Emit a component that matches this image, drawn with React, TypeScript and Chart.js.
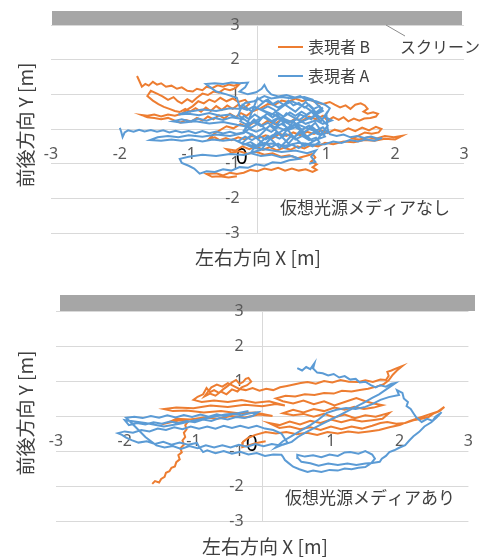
import React, { useEffect, useRef } from "react";
import { Chart, registerables } from "chart.js";

Chart.register(...registerables);

// ---------- data ----------
const axisMin = -3;
const axisMax = 3;
const tickStep = 1;

const seriesNames = ["表現者 B", "表現者 A"];
const screenLabel = "スクリーン";
const xTitle = "左右方向 X [m]";
const yTitle = "前後方向 Y [m]";
const topCaption = "仮想光源メディアなし";
const bottomCaption = "仮想光源メディアあり";

// top panel (without media) - performer B (orange)
const topB: [number, number][] = [
  [-1.75, 1.53], [-1.72, 1.4], [-1.68, 1.22], [-1.63, 1.3], [-1.58, 1.25], [-1.52, 1.36], [-1.46, 1.28], [-1.4, 1.32],
  [-1.33, 1.22], [-1.25, 1.25], [-1.17, 1.16], [-1.1, 1.2], [-1.02, 1.1], [-0.94, 1.08], [-0.88, 1.16], [-0.8, 1.12],
  [-0.74, 1.22], [-0.66, 1.18], [-0.58, 1.26], [-0.5, 1.22], [-0.42, 1.28], [-0.34, 1.25], [-0.26, 1.3],
  [-0.32, 1.18], [-0.4, 1.12], [-0.48, 1.16], [-0.56, 1.05], [-0.64, 1.08], [-0.72, 0.98], [-0.8, 1.02], [-0.88, 0.9],
  [-0.95, 0.78], [-1.02, 0.86], [-1.1, 0.74], [-1.16, 0.8], [-1.22, 0.92], [-1.3, 0.84], [-1.38, 0.94], [-1.46, 1.02],
  [-1.55, 1.1], [-1.6, 0.95], [-1.52, 0.82], [-1.44, 0.72], [-1.36, 0.64], [-1.28, 0.58], [-1.2, 0.52], [-1.13, 0.49],
  [-1.05, 0.58], [-0.98, 0.5], [-0.9, 0.6], [-0.82, 0.5], [-0.75, 0.62], [-0.68, 0.52], [-0.6, 0.66], [-0.52, 0.55],
  [-0.44, 0.68], [-0.36, 0.58], [-0.28, 0.7], [-0.2, 0.6], [-0.12, 0.72], [-0.18, 0.84], [-0.28, 0.78], [-0.36, 0.88],
  [-0.45, 0.8], [-0.54, 0.9], [-0.62, 0.78], [-0.7, 0.85], [-0.78, 0.74], [-0.86, 0.8], [-0.94, 0.66], [-1.02, 0.56],
  [-1.1, 0.44], [-1.2, 0.38], [-1.3, 0.42], [-1.4, 0.36], [-1.5, 0.42], [-1.6, 0.38], [-1.68, 0.4], [-1.6, 0.34],
  [-1.5, 0.32], [-1.4, 0.28], [-1.3, 0.32], [-1.2, 0.24], [-1.12, 0.18], [-1.04, 0.26], [-0.96, 0.22], [-0.88, 0.32],
  [-0.8, 0.24], [-0.72, 0.36], [-0.64, 0.28], [-0.56, 0.4], [-0.48, 0.3], [-0.4, 0.44], [-0.32, 0.34], [-0.24, 0.46],
  [-0.16, 0.38], [-0.08, 0.5], [0.05, 0.6], [0.15, 0.72], [0.25, 0.7], [0.35, 0.82], [0.45, 0.78], [0.55, 0.88],
  [0.65, 0.8], [0.75, 0.86], [0.85, 0.76], [0.95, 0.72], [1.05, 0.78], [1.12, 0.7], [1.2, 0.62], [1.28, 0.68],
  [1.35, 0.58], [1.42, 0.7], [1.5, 0.74], [1.56, 0.68], [1.6, 0.58], [1.54, 0.5], [1.6, 0.44], [1.68, 0.48],
  [1.75, 0.44], [1.72, 0.36], [1.64, 0.32], [1.55, 0.3], [1.48, 0.24], [1.4, 0.3], [1.32, 0.22], [1.25, 0.34],
  [1.18, 0.26], [1.1, 0.34], [1.02, 0.24], [0.95, 0.38], [0.85, 0.28], [0.75, 0.36], [0.65, 0.24], [0.55, 0.3],
  [0.45, 0.18], [0.35, 0.28], [0.25, 0.14], [0.15, 0.24], [0.05, 0.1], [-0.05, 0.2], [-0.15, 0.06], [-0.25, 0.14],
  [-0.35, 0.02], [-0.45, 0.08], [-0.55, -0.04], [-0.62, -0.12], [-0.7, -0.28], [-0.62, -0.24], [-0.55, -0.32],
  [-0.46, -0.26], [-0.38, -0.32], [-0.28, -0.24], [-0.18, -0.3], [-0.08, -0.2], [0.02, -0.26], [0.12, -0.18],
  [0.22, -0.26], [0.32, -0.14], [0.42, -0.2], [0.52, -0.1], [0.62, -0.18], [0.72, -0.08], [0.82, -0.14], [0.92, -0.04],
  [1.02, -0.12], [1.12, -0.02], [1.22, -0.08], [1.32, 0.02], [1.42, -0.06], [1.52, 0.04], [1.62, -0.04], [1.72, 0.06],
  [1.8, 0.0], [1.76, -0.1], [1.66, -0.14], [1.56, -0.1], [1.46, -0.2], [1.38, -0.28], [1.48, -0.3], [1.6, -0.24],
  [1.72, -0.28], [1.85, -0.2], [1.98, -0.24], [2.1, -0.2], [2.0, -0.3], [1.85, -0.28], [1.7, -0.34], [1.55, -0.32],
  [1.4, -0.38], [1.25, -0.36], [1.1, -0.44], [0.98, -0.4], [0.88, -0.5], [0.78, -0.46], [0.68, -0.56], [0.58, -0.5],
  [0.48, -0.6], [0.38, -0.54], [0.28, -0.62], [0.18, -0.52], [0.08, -0.6], [-0.02, -0.5], [-0.12, -0.58],
  [-0.22, -0.5], [-0.32, -0.62], [-0.45, -0.58], [-0.38, -0.68], [-0.26, -0.64], [-0.14, -0.72], [-0.02, -0.66],
  [0.1, -0.74], [0.22, -0.7], [0.34, -0.8], [0.46, -0.76], [0.58, -0.84], [0.7, -0.78], [0.8, -0.72], [0.84, -0.82],
  [0.78, -0.94], [0.86, -1.02], [0.8, -1.1], [0.86, -1.18], [0.8, -1.24], [0.7, -1.16], [0.6, -1.2], [0.5, -1.14],
  [0.4, -1.2], [0.3, -1.12], [0.2, -1.18], [0.1, -1.14], [0.0, -1.22], [-0.1, -1.18], [-0.2, -1.26], [-0.3, -1.3],
  [-0.4, -1.26], [-0.5, -1.34], [-0.6, -1.28], [-0.74, -1.3], [-0.66, -1.38], [-0.55, -1.36], [-0.42, -1.4],
  [-0.3, -1.36],
];

// top panel - performer A (blue)
const topA: [number, number][] = [
  [-2.0, 0.03], [-1.98, -0.08], [-1.96, -0.23], [-1.93, -0.1], [-1.88, -0.04], [-1.8, -0.08], [-1.72, -0.02],
  [-1.64, -0.07], [-1.55, -0.03], [-1.46, -0.08], [-1.37, -0.04], [-1.28, -0.1], [-1.19, -0.05], [-1.1, -0.1],
  [-1.0, -0.06], [-0.9, -0.12], [-0.8, -0.06], [-0.7, -0.12], [-0.6, -0.07], [-0.5, -0.13], [-0.4, -0.08],
  [-0.3, -0.14], [-0.2, -0.1],
  [0.0, 0.9], [0.08, 0.78], [0.15, 0.85], [0.22, 0.72], [0.3, 0.8], [0.38, 0.7], [0.45, 0.82], [0.52, 0.68],
  [0.6, 0.75], [0.68, 0.62], [0.75, 0.7], [0.82, 0.58], [0.9, 0.66], [0.95, 0.52], [0.88, 0.45], [0.8, 0.52],
  [0.72, 0.4], [0.64, 0.5], [0.55, 0.38], [0.47, 0.48], [0.38, 0.35], [0.3, 0.46], [0.22, 0.33], [0.14, 0.44],
  [0.05, 0.3], [-0.04, 0.42], [-0.12, 0.28], [-0.2, 0.38], [-0.25, 0.22], [-0.15, 0.12], [-0.05, 0.2], [0.05, 0.08],
  [0.15, 0.18], [0.25, 0.05], [0.35, 0.15], [0.45, 0.02], [0.55, 0.12], [0.65, -0.02], [0.75, 0.1], [0.85, -0.05],
  [0.95, 0.05], [1.02, -0.1], [0.92, -0.18], [0.82, -0.1], [0.72, -0.22], [0.62, -0.12], [0.52, -0.25], [0.42, -0.15],
  [0.32, -0.28], [0.22, -0.18], [0.12, -0.3], [0.02, -0.2], [-0.08, -0.32], [-0.18, -0.22], [-0.28, -0.35],
  [-0.2, -0.45], [-0.1, -0.38], [0.0, -0.5], [0.1, -0.4], [0.2, -0.52], [0.3, -0.42], [0.4, -0.55], [0.5, -0.45],
  [0.6, -0.55], [0.7, -0.42], [0.8, -0.5], [0.9, -0.38], [0.85, -0.25], [0.75, -0.32], [0.65, -0.2], [0.55, -0.3],
  [0.45, -0.05], [0.35, 0.25], [0.25, 0.55], [0.15, 0.65], [0.05, 0.55], [-0.05, 0.65], [-0.15, 0.55], [-0.25, 0.62],
  [-0.18, 0.75], [-0.05, 0.8], [0.1, 0.95], [0.2, 0.88], [0.35, 0.92], [0.5, 0.88], [0.62, 0.95], [0.7, 0.85],
  [0.85, 0.8], [0.98, 0.7], [1.05, 0.6], [0.98, 0.35], [1.08, 0.25], [0.95, 0.15], [0.85, 0.25], [0.7, 0.15],
  [0.58, 0.28], [0.45, 0.2], [0.32, 0.35], [0.2, 0.22], [0.08, 0.35], [-0.02, 0.12], [-0.12, 0.0], [-0.02, -0.08],
  [0.1, 0.02], [0.2, -0.08], [0.3, 0.05], [0.42, -0.05], [0.55, 0.05], [0.68, -0.08], [0.8, 0.05], [0.9, -0.12],
  [0.0, 0.6], [0.2, 0.4], [0.4, 0.7], [0.55, 0.5], [0.7, 0.78], [0.85, 0.48], [0.95, 0.62], [0.78, 0.28],
  [0.62, 0.42], [0.48, 0.12], [0.3, 0.3], [0.12, 0.0], [-0.05, 0.28], [-0.2, -0.05], [0.0, -0.25], [0.18, 0.1],
  [0.36, -0.2], [0.52, 0.22], [0.68, -0.1], [0.84, 0.18], [0.98, -0.22], [0.8, -0.35], [0.62, -0.05], [0.45, -0.42],
  [0.28, -0.08], [0.1, -0.45], [-0.08, -0.15], [-0.22, -0.4], [-0.05, -0.55], [0.15, -0.2], [0.32, -0.55],
  [0.5, -0.18], [0.68, -0.5], [0.88, -0.28], [1.02, 0.1], [0.9, 0.35], [0.72, 0.6], [0.5, 0.8], [0.3, 0.62],
  [0.12, 0.82], [-0.08, 0.5], [-0.22, 0.7], [-0.28, 0.4], [-0.1, 0.15], [0.1, 0.38], [0.28, 0.12], [0.42, 0.45],
  [0.6, 0.25], [0.78, 0.5], [0.92, 0.22], [1.0, 0.45], [1.02, 0.0],
  [1.05, -0.15], [1.15, -0.2], [1.25, -0.16], [1.35, -0.24], [1.45, -0.2], [1.55, -0.26], [1.65, -0.22],
  [1.75, -0.28], [1.81, -0.26], [1.7, -0.34], [1.58, -0.3], [1.46, -0.36], [1.34, -0.32], [1.22, -0.4], [1.1, -0.36],
  [0.98, -0.44], [0.8, -0.45], [0.6, -0.4], [0.4, -0.48], [0.2, -0.42], [0.0, -0.5], [-0.2, -0.44], [-0.35, -0.3],
  [-0.5, -0.34], [-0.65, -0.3], [-0.8, -0.36], [-0.95, -0.3], [-1.1, -0.34], [-1.25, -0.3], [-1.4, -0.34],
  [-1.56, -0.32], [-1.45, -0.24], [-1.3, -0.2], [-1.15, -0.24], [-1.0, -0.18], [-0.8, -0.22], [-0.6, -0.16],
  [-0.4, -0.2], [-0.2, -0.12], [-0.1, 0.05], [-0.3, 0.12], [-0.5, 0.2], [-0.7, 0.16], [-0.9, 0.22], [-1.1, 0.18],
  [-1.23, 0.22], [-1.1, 0.28], [-0.98, 0.22], [-0.86, 0.3], [-0.74, 0.24], [-0.62, 0.32], [-0.5, 0.26],
  [-0.38, 0.34], [-0.26, 0.3], [-0.4, 0.42], [-0.55, 0.38], [-0.7, 0.46], [-0.85, 0.4], [-1.0, 0.44], [-1.15, 0.42],
  [-1.0, 0.5], [-0.8, 0.56], [-0.6, 0.52], [-0.4, 0.6], [-0.25, 0.58], [-0.3, 0.9], [-0.45, 1.0], [-0.6, 1.08],
  [-0.75, 1.3], [-0.62, 1.32], [-0.5, 1.3], [-0.38, 1.34], [-0.26, 1.32], [-0.14, 1.34], [-0.18, 1.2],
  [-0.26, 1.08], [-0.14, 1.0], [-0.02, 1.06], [0.06, 1.16], [0.1, 1.27], [0.14, 1.12], [0.2, 1.0], [0.3, 0.94],
  [0.42, 0.98], [0.55, 0.9], [0.68, 0.92], [0.8, 0.85], [0.92, 0.6], [0.8, 0.35], [0.6, 0.18], [0.4, 0.0],
  [0.2, -0.25], [0.05, -0.6], [-0.2, -0.75], [-0.4, -0.72], [-0.6, -0.78], [-0.8, -0.74], [-1.0, -0.8],
  [-1.13, -0.86], [-1.1, -0.98], [-1.0, -1.06], [-0.92, -1.14], [-0.84, -1.29], [-0.74, -1.22], [-0.62, -1.24],
  [-0.5, -1.16], [-0.38, -1.2], [-0.26, -1.1], [-0.14, -1.12], [-0.02, -1.02], [0.1, -1.06], [0.22, -0.96],
  [0.34, -0.98], [0.46, -0.9], [0.61, -0.86], [0.5, -0.78], [0.35, -0.82], [0.2, -0.74], [0.05, -0.78],
  [-0.1, -0.7], [-0.05, -0.55], [0.15, -0.6], [0.35, -0.66], [0.55, -0.62], [0.72, -0.7], [0.85, -0.62],
  [0.78, -0.8], [0.84, -0.95], [0.75, -1.0],
];

// bottom panel (with media) - performer B (orange)
const botB: [number, number][] = [
  [-1.6, -1.94], [-1.56, -1.86], [-1.5, -1.9], [-1.47, -1.8], [-1.42, -1.74], [-1.4, -1.62], [-1.35, -1.58],
  [-1.32, -1.48], [-1.27, -1.44], [-1.25, -1.32], [-1.2, -1.24], [-1.22, -1.12], [-1.17, -1.04], [-1.19, -0.92],
  [-1.14, -0.82], [-1.16, -0.7], [-1.12, -0.6], [-1.14, -0.48], [-1.1, -0.38], [-1.12, -0.26], [-1.08, -0.16],
  [-1.2, -0.12], [-1.38, -0.2], [-1.25, -0.08], [-1.05, -0.1], [-0.85, -0.04], [-0.65, -0.08], [-0.45, 0.0],
  [-0.25, -0.04], [-0.05, 0.04], [0.15, 0.0], [-0.1, 0.1], [-0.35, 0.08], [-0.6, 0.14], [-0.85, 0.1], [-1.1, 0.16],
  [-1.3, 0.14], [-1.43, 0.2], [-1.25, 0.24], [-1.0, 0.22], [-0.75, 0.3], [-0.5, 0.26], [-0.25, 0.32], [0.0, 0.28],
  [0.2, 0.34], [0.33, 0.3], [0.1, 0.42], [-0.1, 0.38], [-0.3, 0.46], [-0.5, 0.4], [-0.7, 0.44], [-0.88, 0.4],
  [-1.0, 0.46], [-0.94, 0.55], [-0.86, 0.62], [-0.81, 0.8], [-0.76, 0.68], [-0.7, 0.74], [-0.63, 0.66], [-0.57, 0.76],
  [-0.5, 0.86], [-0.44, 0.96], [-0.38, 1.03], [-0.33, 0.92], [-0.28, 0.97], [-0.24, 1.06], [-0.2, 1.09],
  [-0.16, 0.98], [-0.22, 0.88], [-0.3, 0.82], [-0.36, 0.7], [-0.44, 0.76], [-0.52, 0.62], [-0.6, 0.7], [-0.68, 0.58],
  [-0.76, 0.64], [-0.84, 0.56], [-0.74, 0.82], [-0.66, 0.9], [-0.58, 0.84], [-0.5, 0.94], [-0.42, 0.86],
  [-0.34, 0.78], [-0.24, 0.74], [-0.14, 0.8], [-0.04, 0.72], [0.06, 0.78], [0.16, 0.74], [0.26, 0.82], [0.36, 0.86],
  [0.46, 0.9], [0.56, 0.94], [0.66, 0.97], [0.78, 0.92], [0.9, 1.0], [1.02, 0.96], [1.14, 1.03], [1.26, 0.98],
  [1.4, 0.97], [1.5, 1.02], [1.61, 0.97], [1.72, 1.04], [1.8, 1.03], [1.84, 1.15], [1.82, 1.26], [1.88, 1.3],
  [1.95, 1.36], [2.04, 1.43], [1.96, 1.3], [1.9, 1.18], [1.84, 1.02], [1.76, 0.9], [1.66, 0.84], [1.54, 0.78],
  [1.42, 0.74], [1.3, 0.7], [1.16, 0.72], [1.04, 0.64], [0.9, 0.66], [0.76, 0.6], [0.62, 0.62], [0.48, 0.56],
  [0.34, 0.58], [0.2, 0.5], [0.3, 0.42], [0.45, 0.36], [0.6, 0.44], [0.75, 0.34], [0.9, 0.42], [1.05, 0.3],
  [1.2, 0.4], [1.37, 0.51], [1.5, 0.42], [1.62, 0.36], [1.75, 0.31], [1.62, 0.24], [1.48, 0.2], [1.34, 0.26],
  [1.2, 0.18], [1.05, 0.24], [0.9, 0.14], [0.75, 0.2], [0.6, 0.1], [0.45, 0.18], [0.3, 0.08], [0.45, 0.02],
  [0.6, 0.06], [0.75, -0.02], [0.9, 0.06], [1.05, -0.04], [1.2, 0.04], [1.35, -0.06], [1.5, 0.02], [1.65, -0.02],
  [1.85, 0.09], [1.75, -0.08], [1.6, -0.12], [1.45, -0.16], [1.3, -0.1], [1.15, -0.18], [1.0, -0.1], [0.85, -0.2],
  [0.7, -0.14], [0.55, -0.24], [0.4, -0.16], [0.25, -0.26], [0.1, -0.2], [0.25, -0.34], [0.4, -0.3], [0.55, -0.38],
  [0.7, -0.32], [0.85, -0.4], [1.0, -0.3], [1.15, -0.38], [1.3, -0.3], [1.45, -0.36], [1.6, -0.28], [1.72, -0.2],
  [1.82, -0.17], [1.95, -0.22], [2.08, -0.2], [2.2, -0.12], [2.32, -0.08], [2.42, -0.03], [2.5, 0.08], [2.58, 0.14],
  [2.65, 0.26], [2.55, 0.12], [2.45, 0.06], [2.3, -0.04], [2.15, -0.14], [2.0, -0.26], [1.85, -0.32], [1.7, -0.4],
  [1.55, -0.44], [1.4, -0.48], [1.25, -0.44], [1.1, -0.5], [0.95, -0.46], [0.8, -0.54], [0.65, -0.48], [0.5, -0.52],
  [0.35, -0.46], [0.2, -0.5], [0.05, -0.46], [-0.1, -0.54], [-0.2, -0.62], [-0.28, -0.74], [-0.29, -0.89],
  [-0.2, -0.84], [-0.1, -0.78], [0.05, -0.72],
];

// bottom panel - performer A (blue)
const botA: [number, number][] = [
  [0.51, 1.37], [0.58, 1.3], [0.64, 1.4], [0.7, 1.34], [0.76, 1.51], [0.74, 1.36], [0.8, 1.24], [0.88, 1.22],
  [0.96, 1.16], [1.04, 1.2], [1.12, 1.1], [1.2, 1.14], [1.28, 1.04], [1.36, 1.06], [1.42, 0.96], [1.5, 0.98],
  [1.58, 0.88], [1.65, 0.82], [1.72, 0.88], [1.8, 0.84], [1.88, 0.92], [1.94, 0.94], [1.82, 0.78], [1.7, 0.62],
  [1.6, 0.52], [1.48, 0.38], [1.36, 0.26], [1.24, 0.14], [1.12, 0.02], [1.0, -0.1], [0.88, -0.22], [0.76, -0.34],
  [0.64, -0.46], [0.52, -0.6], [0.43, -0.74], [0.3, -0.82], [0.19, -0.91], [0.3, -0.72], [0.42, -0.58],
  [0.56, -0.42], [0.7, -0.26], [0.82, -0.1], [0.94, 0.09], [1.08, 0.18], [1.22, 0.23], [1.36, 0.2], [1.5, 0.26],
  [1.6, 0.34], [1.72, 0.46], [1.84, 0.54], [1.99, 0.6], [1.96, 0.74], [2.04, 0.66], [2.06, 0.5], [2.12, 0.4],
  [2.1, 0.28], [2.16, 0.2], [2.2, 0.08], [2.24, -0.04], [2.32, -0.17], [2.4, -0.08], [2.48, -0.14], [2.52, -0.02],
  [2.58, 0.06], [2.61, 0.11], [2.54, -0.04], [2.46, -0.18], [2.36, -0.3], [2.28, -0.46], [2.2, -0.58], [2.14, -0.7],
  [2.08, -0.83], [2.0, -0.9], [1.92, -0.98], [1.85, -1.03], [1.8, -1.14], [1.74, -1.22], [1.71, -1.31], [1.6, -1.34],
  [1.5, -1.36], [1.37, -1.4], [1.24, -1.36], [1.1, -1.4], [0.96, -1.36], [0.82, -1.42], [0.7, -1.35], [0.57, -1.31],
  [0.52, -1.2], [0.51, -1.11], [0.62, -1.16], [0.74, -1.12], [0.86, -1.18], [0.98, -1.1], [1.1, -1.14], [1.2, -1.04],
  [1.28, -1.03], [1.4, -1.08], [1.5, -1.0], [1.6, -1.1], [1.64, -1.22], [1.58, -1.36], [1.5, -1.46], [1.4, -1.48],
  [1.3, -1.52], [1.2, -1.5], [1.1, -1.56], [0.98, -1.54], [0.86, -1.6], [0.74, -1.56], [0.66, -1.6], [0.54, -1.52],
  [0.45, -1.45], [0.38, -1.34], [0.33, -1.26], [0.3, -1.16], [0.28, -1.11], [0.16, -1.1], [0.04, -1.14],
  [-0.08, -1.06], [-0.2, -1.1], [-0.32, -1.02], [-0.44, -1.08], [-0.56, -1.0], [-0.68, -1.06], [-0.8, -0.98],
  [-0.86, -1.03], [-0.92, -0.88], [-0.95, -0.77], [-1.08, -0.82], [-1.2, -0.76], [-1.32, -0.82], [-1.44, -0.74],
  [-1.56, -0.8], [-1.68, -0.72], [-1.8, -0.76], [-1.9, -0.69], [-1.98, -0.62], [-2.04, -0.54], [-2.1, -0.49],
  [-2.0, -0.44], [-1.88, -0.48], [-1.76, -0.4], [-1.64, -0.44], [-1.52, -0.36], [-1.4, -0.4], [-1.28, -0.32],
  [-1.16, -0.38], [-1.04, -0.3], [-0.92, -0.36], [-0.8, -0.3], [-0.68, -0.36], [-0.56, -0.28], [-0.44, -0.34],
  [-0.32, -0.28], [-0.2, -0.34], [-0.08, -0.28], [0.04, -0.36], [0.16, -0.4], [0.28, -0.5], [0.37, -0.77],
  [0.26, -0.84], [0.14, -0.8], [0.02, -0.86], [-0.1, -0.8], [-0.22, -0.88], [-0.34, -0.82], [-0.46, -0.9],
  [-0.58, -0.84], [-0.7, -0.9], [-0.82, -0.84], [-0.94, -0.92], [-1.06, -0.86], [-1.18, -0.94], [-1.3, -0.86],
  [-1.42, -0.9], [-1.54, -0.84], [-1.7, -0.6], [-1.85, -0.3], [-1.98, -0.05], [-1.86, -0.02], [-1.74, -0.06],
  [-1.62, 0.0], [-1.5, -0.05], [-1.38, 0.02], [-1.26, -0.04], [-1.14, 0.03], [-1.02, -0.03], [-0.9, 0.04],
  [-0.78, -0.02], [-0.66, 0.05], [-0.54, -0.01], [-0.42, 0.06], [-0.3, 0.02], [-0.18, 0.08], [-0.06, 0.11],
  [-0.14, 0.0], [-0.26, -0.06], [-0.38, -0.03], [-0.5, -0.1], [-0.62, -0.06], [-0.74, -0.14], [-0.86, -0.1],
  [-0.98, -0.18], [-1.1, -0.14], [-1.22, -0.2], [-1.34, -0.16], [-1.46, -0.22], [-1.58, -0.18], [-1.7, -0.24],
  [-1.82, -0.2], [-1.94, -0.26], [-2.0, -0.12], [-1.7, -0.2], [-1.43, -0.3], [-1.2, -0.22], [-0.98, -0.12],
  [-0.76, -0.04], [-0.54, 0.04], [-0.36, 0.08], [-0.2, 0.14],
];

// ---------- styling ----------
const ORANGE = "#ED7D31";
const BLUE = "#5B9BD5";
const GRID = "#d9d9d9";
const TICK = "#595959";
const TEXT = "#404040";
const JP = '"Noto Sans CJK JP", "Noto Sans", sans-serif';
const NUM = '"Noto Sans", sans-serif';

type Decor = {
  legend: boolean;
  caption: string;
  captionX: number;
  captionY: number;
  yTitleX: number;
  yTitleY: number;
  xTitleX: number;
  xTitleY: number;
  barLeft: number;
  barRight: number;
  barTop: number;
  barBottom: number;
};

function makeDecorPlugin(d: Decor) {
  return {
    id: "decor",
    beforeDraw(chart: any) {
      const ctx = chart.ctx as CanvasRenderingContext2D;
      ctx.save();
      ctx.fillStyle = "#a6a6a6";
      ctx.fillRect(d.barLeft, d.barTop, d.barRight - d.barLeft, d.barBottom - d.barTop);
      ctx.restore();
    },
    afterDraw(chart: any) {
      const ctx = chart.ctx as CanvasRenderingContext2D;
      ctx.save();
      ctx.fillStyle = TEXT;
      ctx.textBaseline = "middle";
      if (d.legend) {
        ctx.strokeStyle = "#8c8c8c";
        ctx.lineWidth = 1;
        ctx.beginPath();
        ctx.moveTo(386, 25);
        ctx.lineTo(405, 36);
        ctx.stroke();
        ctx.font = `16px ${JP}`;
        ctx.textAlign = "left";
        ctx.fillText(screenLabel, 400, 47);
        const items = [
          { name: seriesNames[0], color: ORANGE, y: 47 },
          { name: seriesNames[1], color: BLUE, y: 76 },
        ];
        for (const it of items) {
          ctx.strokeStyle = it.color;
          ctx.lineWidth = 2;
          ctx.beginPath();
          ctx.moveTo(278, it.y);
          ctx.lineTo(303, it.y);
          ctx.stroke();
          ctx.fillStyle = TEXT;
          ctx.fillText(it.name, 308, it.y);
        }
      }
      ctx.fillStyle = TEXT;
      ctx.font = `17px ${JP}`;
      ctx.textAlign = "left";
      ctx.fillText(d.caption, d.captionX, d.captionY);
      ctx.font = `19px ${JP}`;
      ctx.textAlign = "center";
      ctx.fillText(xTitle, d.xTitleX, d.xTitleY);
      ctx.translate(d.yTitleX, d.yTitleY);
      ctx.rotate(-Math.PI / 2);
      ctx.fillText(yTitle, 0, 0);
      ctx.restore();
    },
  };
}

function makeConfig(
  b: [number, number][],
  a: [number, number][],
  padding: any,
  decor: Decor,
  yAxisAt: number,
  zeroPad: string
): any {
  return {
    type: "scatter",
    data: {
      datasets: [
        {
          label: seriesNames[0],
          data: b.map(([x, y]) => ({ x, y })),
          borderColor: ORANGE,
          backgroundColor: ORANGE,
          showLine: true,
          pointRadius: 0,
          borderWidth: 2,
          order: 2,
        },
        {
          label: seriesNames[1],
          data: a.map(([x, y]) => ({ x, y })),
          borderColor: BLUE,
          backgroundColor: BLUE,
          showLine: true,
          pointRadius: 0,
          borderWidth: 2,
          order: 1,
        },
      ],
    },
    options: {
      responsive: false,
      animation: false,
      layout: { padding },
      plugins: { legend: { display: false }, tooltip: { enabled: false }, title: { display: false } },
      scales: {
        x: {
          type: "linear",
          min: axisMin,
          max: axisMax,
          position: { y: 0 },
          border: { display: false },
          grid: {
            drawTicks: false,
            color: (c: any) => (c.tick && c.tick.value === 0 ? GRID : "rgba(0,0,0,0)"),
          },
          ticks: {
            stepSize: tickStep,
            padding: 16,
            color: (c: any) => (c.tick && c.tick.value === 0 ? "#000" : TICK),
            font: (c: any) =>
              c.tick && c.tick.value === 0 ? { family: NUM, size: 21 } : { family: NUM, size: 16 },
            callback: (v: any) => (v === 0 ? "0" + zeroPad : String(v)),
          },
        },
        y: {
          type: "linear",
          min: axisMin,
          max: axisMax,
          position: { x: yAxisAt },
          border: { display: false },
          grid: { drawTicks: false, color: GRID },
          ticks: {
            stepSize: tickStep,
            padding: 0,
            color: TICK,
            font: { family: NUM, size: 16 },
            callback: (v: any) => (v === 0 ? "" : String(v)),
          },
        },
      },
    },
    plugins: [makeDecorPlugin(decor)],
  };
}

function Panel(props: {
  b: [number, number][];
  a: [number, number][];
  padding: any;
  decor: Decor;
  height: number;
  yAxisAt: number;
  zeroPad: string;
}) {
  const ref = useRef<HTMLCanvasElement | null>(null);
  useEffect(() => {
    if (!ref.current) return;
    const chart = new Chart(
      ref.current,
      makeConfig(props.b, props.a, props.padding, props.decor, props.yAxisAt, props.zeroPad)
    );
    return () => chart.destroy();
  }, []);
  return <canvas ref={ref} width={489} height={props.height} style={{ display: "block" }} />;
}

export default function App() {
  return (
    <div style={{ position: "absolute", left: 0, top: 0, width: 489, height: 559, background: "#fff" }}>
      <Panel
        b={topB}
        a={topA}
        height={280}
        yAxisAt={-0.26}
        zeroPad={"\u2002\u2002\u2002"}
        padding={{ left: 51, right: 25, top: 25, bottom: 47 }}
        decor={{
          legend: true,
          caption: topCaption,
          captionX: 280,
          captionY: 208,
          yTitleX: 26,
          yTitleY: 125,
          xTitleX: 258,
          xTitleY: 258,
          barLeft: 52,
          barRight: 462,
          barTop: 11,
          barBottom: 25,
        }}
      />
      <Panel
        b={botB}
        a={botA}
        height={279}
        yAxisAt={-0.27}
        zeroPad={"\u2002\u2002"}
        padding={{ left: 56, right: 12, top: 31, bottom: 38 }}
        decor={{
          legend: false,
          caption: bottomCaption,
          captionX: 285,
          captionY: 218,
          yTitleX: 26,
          yTitleY: 133,
          xTitleX: 265,
          xTitleY: 267,
          barLeft: 60,
          barRight: 475,
          barTop: 15,
          barBottom: 31,
        }}
      />
    </div>
  );
}
